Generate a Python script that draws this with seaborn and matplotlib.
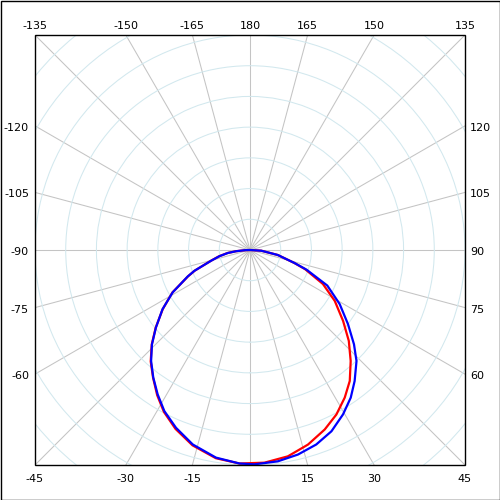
import numpy as np
import pandas as pd
import matplotlib
matplotlib.use("Agg")
import matplotlib.pyplot as plt
from matplotlib.patches import Rectangle
import seaborn as sns

# ---- data (angle in degrees, radius in grid units; 7 = edge of the square) ----
blue_theta = [-90, -88.0, -85.0, -82.3, -78.5, -74.6, -69.5, -67.0, -61.3, -55.9,
              -50.5, -46.1, -41.7, -37.2, -32.6, -28.0, -22.6, -16.4, -9.3, -2.8,
              1.2, 7.5, 13.2, 18.8, 24.2, 29.5, 34.3, 38.6, 43.8, 47.8,
              52.9, 58.9, 65.3, 70.8, 73.7, 79.8, 86.4, 90]
blue_r = [0.0, 0.15, 0.45, 0.73, 1.02, 1.31, 1.93, 2.20, 2.87, 3.44,
          3.97, 4.43, 4.84, 5.21, 5.58, 5.94, 6.27, 6.60, 6.85, 6.96,
          6.98, 6.94, 6.84, 6.69, 6.47, 6.15, 5.82, 5.46, 5.01, 4.57,
          4.00, 3.41, 2.77, 1.95, 1.51, 0.92, 0.37, 0.0]

red_theta = [-90, -88.0, -85.0, -82.3, -78.5, -74.6, -69.5, -67.0, -61.3, -55.9,
             -50.5, -46.1, -41.7, -37.2, -32.6, -28.0, -22.6, -16.4, -9.3, -2.8,
             3.9, 10.4, 16.6, 22.6, 27.7, 32.7, 37.3, 42.2, 47.4, 52.7,
             59.0, 65.0, 70.8, 73.7, 79.8, 86.4, 90]
red_r = [0.0, 0.15, 0.46, 0.74, 1.03, 1.32, 1.92, 2.19, 2.88, 3.43,
         3.98, 4.44, 4.86, 5.22, 5.61, 5.97, 6.31, 6.63, 6.87, 6.96,
         6.94, 6.83, 6.61, 6.33, 6.05, 5.71, 5.36, 4.88, 4.37, 3.81,
         3.22, 2.62, 1.90, 1.50, 0.92, 0.37, 0.0]

angle_ticks = list(range(0, 360, 15))
angle_labels = [-165, -150, -135, -120, -105, -90, -75, -60, -45, -30, -15,
                15, 30, 45, 60, 75, 90, 105, 120, 135, 150, 165, 180]
ring_radii = [1, 2, 3, 4, 5, 6, 7, 8, 9]
edge_r = 7.0

df = pd.concat([
    pd.DataFrame({"theta": np.deg2rad(red_theta), "r": red_r, "series": "red"}),
    pd.DataFrame({"theta": np.deg2rad(blue_theta), "r": blue_r, "series": "blue"}),
], ignore_index=True)

sns.set_theme(style="white")
plt.rcParams["font.family"] = ["DejaVu Sans"]

fig = plt.figure(figsize=(5, 5), dpi=100)
fig.patch.set_facecolor("white")

lo, hi = 35 / 500, 465 / 500
half = (hi - lo) / 2
R = half * np.sqrt(2)
ax = fig.add_axes([0.5 - R, 0.5 - R, 2 * R, 2 * R], projection="polar")
ax.set_theta_zero_location("S")
ax.set_theta_direction(1)

sns.lineplot(data=df, x="theta", y="r", hue="series", hue_order=["red", "blue"],
             palette={"red": "#ff0000", "blue": "#0000ff"}, estimator=None,
             sort=False, legend=False, linewidth=1.6, ax=ax)

ax.set_thetagrids(angle_ticks, labels=[""] * len(angle_ticks))
ax.set_rgrids(ring_radii, labels=[""] * len(ring_radii))
ax.set_rlim(0, edge_r * np.sqrt(2))
ax.set_xlabel("")
ax.set_ylabel("")
ax.grid(True)
ax.xaxis.grid(True, color="#c4c4c4", linewidth=0.75)
ax.yaxis.grid(True, color="#d2e8ee", linewidth=0.75)
for sp in ax.spines.values():
    sp.set_visible(False)
ax.patch.set_visible(False)

clip = Rectangle((lo, lo), hi - lo, hi - lo, transform=fig.transFigure)
for ln in list(ax.xaxis.get_gridlines()) + list(ax.yaxis.get_gridlines()) + list(ax.lines):
    ln.set_clip_path(clip)

# frame of the square plot area and the outer image border
fig.add_artist(Rectangle((lo, lo), hi - lo, hi - lo, transform=fig.transFigure,
                         fill=False, edgecolor="black", linewidth=1.0))
fig.add_artist(Rectangle((0.001, 0.001), 0.998, 0.998, transform=fig.transFigure,
                         fill=False, edgecolor="black", linewidth=1.0))

# angle labels around the square border
for a in angle_labels:
    t = np.deg2rad(a)
    r_e = edge_r / max(abs(np.sin(t)), abs(np.cos(t)))
    if abs(a) >= 135:
        off, ha, va = (0, 9), "center", "center"
    elif abs(a) <= 45:
        off, ha, va = (0, -14), "center", "center"
    elif a < 0:
        off, ha, va = (-6, -2), "right", "center"
    else:
        off, ha, va = (5, -2), "left", "center"
    ax.annotate(f"{a}", xy=(t, r_e), xycoords="data", xytext=off,
                textcoords="offset pixels", ha=ha, va=va, fontsize=8,
                color="black", annotation_clip=False)

fig.savefig("out.png", dpi=100, facecolor="white")
